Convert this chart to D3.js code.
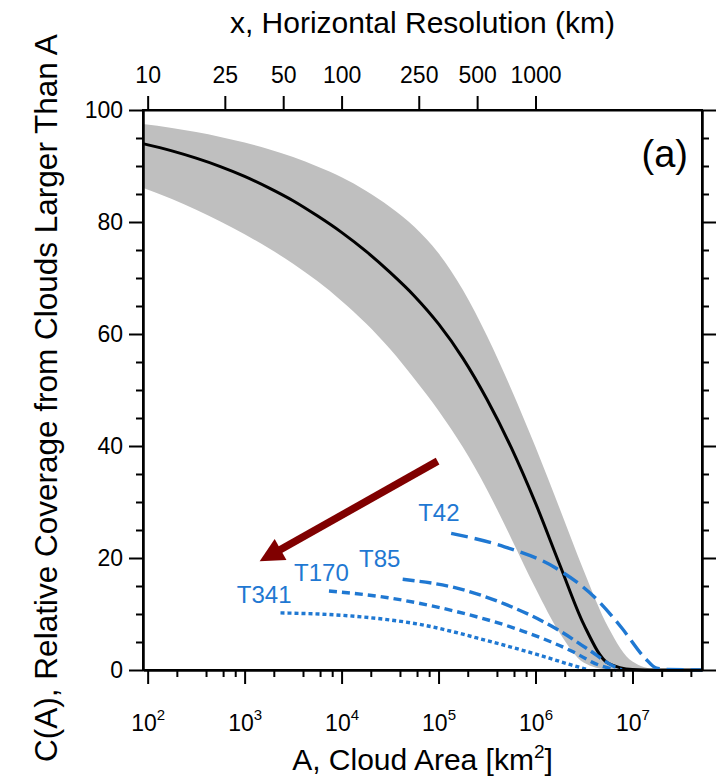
<!DOCTYPE html>
<html>
<head>
<meta charset="utf-8">
<script src="https://cdn.jsdelivr.net/npm/d3@7"></script>
<style>
  body { margin: 0; background: #fff; }
  text { font-family: "Liberation Sans", Arial, Helvetica, sans-serif; }
</style>
</head>
<body>
<div id="chart"></div>
<script>
// log10 of cloud area A (km^2) for the grey band and the mean curve
const bandLogA  = [1.95, 2.25, 2.5, 2.75, 3.0, 3.25, 3.5, 3.75, 4.0, 4.25, 4.5, 4.75,
                   5.0, 5.25, 5.5, 5.75, 6.0, 6.25, 6.5, 6.75, 7.0, 7.25, 7.5, 7.72];
const bandUpper = [97.5, 96.8, 96.05, 95.2, 94.2, 93.0, 91.6, 89.9, 88.0, 85.6, 82.7, 79.15,
                   74.4, 67.9, 59.65, 50.15, 39.8, 28.8, 17.65, 7.65, 1.5, 0.1, 0, 0];
const bandLower = [86.1, 84.1, 82.2, 80.1, 77.8, 75.3, 72.55, 69.45, 65.9, 61.9, 57.3, 52.0,
                   46.3, 39.8, 32.2, 23.5, 14.6, 6.6, 1.3, 0.1, 0, 0, 0, 0];
const meanC     = [94.0, 92.7, 91.4, 89.9, 88.15, 86.1, 83.8, 81.1, 78.15, 74.8, 71.0, 66.8,
                   61.8, 55.7, 48.3, 39.7, 29.8, 18.8, 8.05, 1.2, 0.1, 0, 0, 0];

// model resolutions (blue dashed curves)
const seriesNames = ["T42", "T85", "T170", "T341"];
const t42LogA  = [5.13, 5.68, 6.20, 6.65, 6.89, 7.13, 7.24, 7.35, 7.72];
const t42C     = [24.4, 22.0, 18.3, 12.3, 7.5, 2.1, 0.4, 0.1, 0];
const t85LogA  = [4.63, 5.17, 5.68, 6.20, 6.55, 6.79, 6.89];
const t85C     = [16.2, 14.7, 11.8, 7.5, 3.6, 0.8, 0];
const t170LogA = [3.87, 4.48, 5.17, 5.86, 6.37, 6.65, 6.83];
const t170C    = [14.1, 12.9, 10.5, 7.0, 3.4, 0.9, 0];
const t341LogA = [3.37, 4.13, 4.82, 5.51, 6.03, 6.37, 6.55];
const t341C    = [10.2, 9.6, 8.1, 5.2, 2.7, 0.9, 0];

// label anchor points (log10 A, C)
const labelLogA = [4.79, 4.18, 3.51, 2.92];
const labelC    = [26.6, 18.4, 15.9, 12.0];

// arrow (log10 A, C): tail then tip
const arrowLogA = [4.99, 3.155];
const arrowC    = [37.3, 19.4];

// axis ticks
const xMajor = [2, 3, 4, 5, 6, 7];
const xMinorMult = [2, 4, 6, 8];
const resolutionKm = [10, 25, 50, 100, 250, 500, 1000];
const yMajor = [0, 20, 40, 60, 80, 100];

const W = 716, H = 782;
const margin = { top: 110, right: 14, bottom: 112, left: 143 };
const width = W - margin.left - margin.right;
const height = H - margin.top - margin.bottom;

const BLUE = "#1f78d2";
const dashes = ["17,7", "12,5", "8,5", "4,3"];

const svg = d3.select('#chart')
    .append('svg')
    .attr('width', W)
    .attr('height', H);

const g = svg.append('g')
    .attr('transform', `translate(${margin.left},${margin.top})`);

const xScale = d3.scaleLog()
    .domain([Math.pow(10, 1.952), Math.pow(10, 7.717)])
    .range([0, width]);

const yScale = d3.scaleLinear()
    .domain([0, 100])
    .range([height, 0]);

const px = l => xScale(Math.pow(10, l));

// grey spread band
const bandData = bandLogA.map((l, i) => ({ l, lo: bandLower[i], hi: bandUpper[i] }));
g.append('path')
    .datum(bandData)
    .attr('fill', '#bfbfbf')
    .attr('d', d3.area()
        .x(d => px(d.l))
        .y0(d => yScale(d.lo))
        .y1(d => yScale(d.hi))
        .curve(d3.curveMonotoneX));

// mean curve
const line = d3.line()
    .x(d => px(d[0]))
    .y(d => yScale(d[1]))
    .curve(d3.curveMonotoneX);

g.append('path')
    .datum(bandLogA.map((l, i) => [l, meanC[i]]))
    .attr('fill', 'none')
    .attr('stroke', '#000')
    .attr('stroke-width', 3)
    .attr('d', line);

// blue model curves
const seriesLogA = [t42LogA, t85LogA, t170LogA, t341LogA];
const seriesC = [t42C, t85C, t170C, t341C];

seriesNames.forEach((name, s) => {
    g.append('path')
        .datum(seriesLogA[s].map((l, i) => [l, seriesC[s][i]]))
        .attr('fill', 'none')
        .attr('stroke', BLUE)
        .attr('stroke-width', 3.4)
        .attr('stroke-dasharray', dashes[s])
        .attr('d', line);

    g.append('text')
        .attr('x', px(labelLogA[s]))
        .attr('y', yScale(labelC[s]))
        .attr('fill', BLUE)
        .style('font-size', '24px')
        .text(name);
});

// arrow
const ax0 = px(arrowLogA[0]), ay0 = yScale(arrowC[0]);
const ax1 = px(arrowLogA[1]), ay1 = yScale(arrowC[1]);
const ang = Math.atan2(ay1 - ay0, ax1 - ax0);
const headLen = 24, headHalf = 12;
const bx = ax1 - headLen * Math.cos(ang), by = ay1 - headLen * Math.sin(ang);
g.append('line')
    .attr('x1', ax0).attr('y1', ay0)
    .attr('x2', bx + 2 * Math.cos(ang)).attr('y2', by + 2 * Math.sin(ang))
    .attr('stroke', '#800000')
    .attr('stroke-width', 7.5);
g.append('path')
    .attr('fill', '#800000')
    .attr('d', `M${ax1},${ay1}L${bx - headHalf * Math.sin(ang)},${by + headHalf * Math.cos(ang)}` +
               `L${bx + headHalf * Math.sin(ang)},${by - headHalf * Math.cos(ang)}Z`);

// axes
const xMinor = [];
d3.range(1, 8).forEach(e => xMinorMult.forEach(m => {
    const v = m * Math.pow(10, e);
    if (v > xScale.domain()[0] && v < xScale.domain()[1]) xMinor.push(v);
}));

g.append('g')
    .attr('class', 'axis')
    .attr('transform', `translate(0,${height})`)
    .call(d3.axisBottom(xScale).tickValues(xMinor).tickSize(7).tickSizeOuter(0).tickFormat(''));

const xAxis = g.append('g')
    .attr('class', 'axis')
    .attr('transform', `translate(0,${height})`)
    .call(d3.axisBottom(xScale)
        .tickValues(xMajor.map(e => Math.pow(10, e)))
        .tickSize(14).tickSizeOuter(0)
        .tickFormat(''));

xAxis.selectAll('.tick').each(function(d, i) {
    const t = d3.select(this).append('text')
        .attr('y', 61)
        .attr('text-anchor', 'middle')
        .attr('fill', '#000')
        .style('font-size', '23px');
    t.append('tspan').text('10');
    t.append('tspan')
        .attr('dy', -11)
        .style('font-size', '15px')
        .text(xMajor[i]);
});

const topAxis = g.append('g')
    .attr('class', 'axis')
    .call(d3.axisTop(xScale)
        .tickValues(resolutionKm.map(r => r * r))
        .tickSize(14).tickSizeOuter(0)
        .tickPadding(13)
        .tickFormat((d, i) => resolutionKm[i]));

const yMinor = d3.range(5, 100, 5).filter(v => v % 20 !== 0);

g.append('g')
    .attr('class', 'axis')
    .call(d3.axisLeft(yScale).tickValues(yMinor).tickSize(7).tickSizeOuter(0).tickFormat(''));
g.append('g')
    .attr('class', 'axis')
    .call(d3.axisLeft(yScale).tickValues(yMajor).tickSize(14).tickSizeOuter(0).tickPadding(6));

g.append('g')
    .attr('class', 'axis')
    .attr('transform', `translate(${width},0)`)
    .call(d3.axisRight(yScale).tickValues(yMinor).tickSize(7).tickSizeOuter(0).tickFormat(''));
g.append('g')
    .attr('class', 'axis')
    .attr('transform', `translate(${width},0)`)
    .call(d3.axisRight(yScale).tickValues(yMajor).tickSize(14).tickSizeOuter(0).tickFormat(''));

g.selectAll('.axis .tick line').attr('stroke', '#000').attr('stroke-width', 2);
g.selectAll('.axis .domain').attr('stroke', '#000').attr('stroke-width', 2);
g.selectAll('.axis .tick text')
    .attr('fill', '#000')
    .style('font-family', '"Liberation Sans", Arial, sans-serif')
    .style('font-size', '23px');

// frame
g.append('rect')
    .attr('width', width)
    .attr('height', height)
    .attr('fill', 'none')
    .attr('stroke', '#000')
    .attr('stroke-width', 2);

// panel tag
g.append('text')
    .attr('x', width - 14)
    .attr('y', 57)
    .attr('text-anchor', 'end')
    .style('font-size', '38px')
    .text('(a)');

// titles
svg.append('text')
    .attr('x', margin.left + width / 2)
    .attr('y', 33)
    .attr('text-anchor', 'middle')
    .style('font-size', '30px')
    .text('x, Horizontal Resolution (km)');

const bt = svg.append('text')
    .attr('x', margin.left + width / 2)
    .attr('y', 770)
    .attr('text-anchor', 'middle')
    .style('font-size', '30px');
bt.append('tspan').text('A, Cloud Area [km');
bt.append('tspan').attr('dy', -12).style('font-size', '19px').text('2');
bt.append('tspan').attr('dy', 12).text(']');

svg.append('text')
    .attr('transform', `translate(57,398) rotate(-90)`)
    .attr('text-anchor', 'middle')
    .style('font-size', '31.5px')
    .text('C(A), Relative Coverage from Clouds Larger Than A');
</script>
</body>
</html>
